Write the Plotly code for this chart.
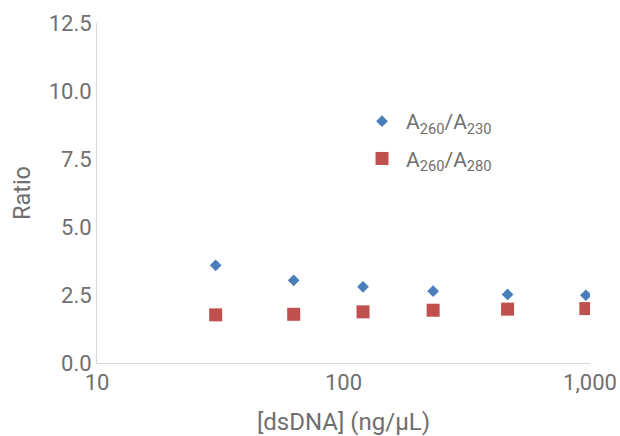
import plotly.graph_objects as go

concentration = [30.3, 62.8, 120, 231, 463, 962]
ratio_260_230 = [3.59, 3.04, 2.80, 2.64, 2.52, 2.49]
ratio_260_280 = [1.77, 1.79, 1.88, 1.94, 1.98, 2.00]
x_tickvals = [10, 100, 1000]
x_ticktext = ["10", "100", "1,000"]
y_tickvals = [0, 2.5, 5, 7.5, 10, 12.5]

gray = "#6f6f6f"
fig = go.Figure()
fig.add_trace(go.Scatter(
    x=concentration, y=ratio_260_230, mode="markers",
    name="A<sub>260</sub>/A<sub>230</sub>", legendgroup="a",
    marker=dict(symbol="diamond", size=9, color="#4a7ebb"),
))
fig.add_trace(go.Scatter(
    x=concentration, y=ratio_260_280, mode="markers",
    name="A<sub>260</sub>/A<sub>280</sub>", legendgroup="b",
    marker=dict(symbol="square", size=13, color="#c0504d"),
))
fig.update_layout(
    width=620, height=436,
    margin=dict(l=97, r=30, t=23, b=73),
    paper_bgcolor="white", plot_bgcolor="white",
    font=dict(family="Roboto", size=21, color=gray),
    showlegend=True,
    legend=dict(x=(358 - 97) / 493, y=(363 - 101) / 340, xanchor="left", yanchor="top",
                bgcolor="rgba(0,0,0,0)", font=dict(size=21, color=gray),
                tracegroupgap=7, itemwidth=38),
    xaxis=dict(type="log", range=[1, 3], tickvals=x_tickvals, ticktext=x_ticktext,
               showgrid=False, showline=True, linecolor="#d9d9d9", linewidth=1,
               zeroline=False, ticks="", tickfont=dict(size=22), automargin=False,
               title=dict(text="[dsDNA] (ng/µL)", standoff=25, font=dict(size=24))),
    yaxis=dict(range=[0, 12.5], tickvals=y_tickvals, tickformat=".1f",
               showgrid=False, showline=True, linecolor="#d9d9d9", linewidth=1,
               zeroline=False, ticks="", tickfont=dict(size=22), automargin=False,
               title=dict(text="Ratio", standoff=11, font=dict(size=23.5))),
)
fig.write_html("out.html")
